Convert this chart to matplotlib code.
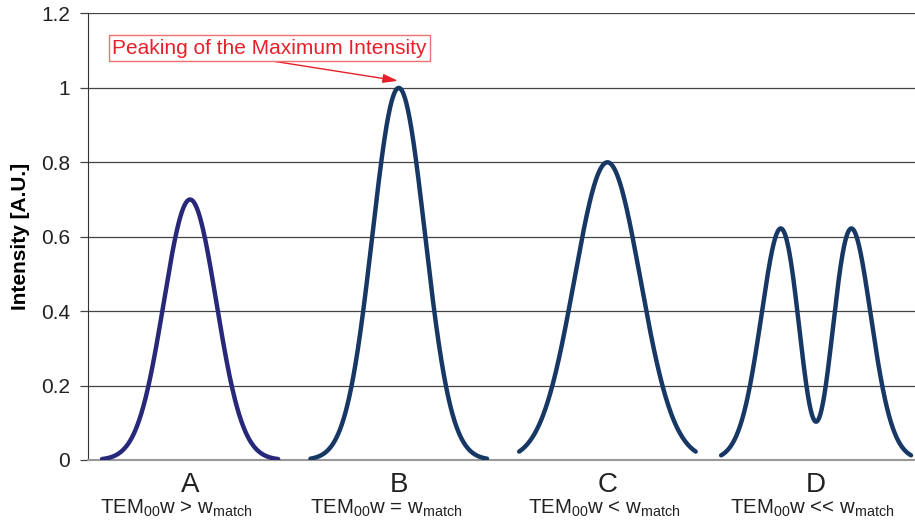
import numpy as np
import matplotlib
matplotlib.use("Agg")
import matplotlib.pyplot as plt
from matplotlib.ticker import FormatStrFormatter

plt.rcParams['font.family'] = ['Liberation Sans', 'DejaVu Sans']
plt.rcParams['mathtext.fontset'] = 'custom'
plt.rcParams['mathtext.rm'] = 'Liberation Sans'

# beam cases
letters = ['A', 'B', 'C', 'D']
captions = [r'TEM$_{\mathregular{00}}$w > w$_{\mathregular{match}}$',
            r'TEM$_{\mathregular{00}}$w = w$_{\mathregular{match}}$',
            r'TEM$_{\mathregular{00}}$w < w$_{\mathregular{match}}$',
            r'TEM$_{\mathregular{00}}$w << w$_{\mathregular{match}}$']
centers = [0, 1, 2, 3]                  # profile positions
tem00 = [0.70, 1.00, 0.80, 0.103]       # TEM00 part of the peak intensity
tem01 = [0.0, 0.0, 0.0, 1.585]          # TEM01 part (only case D)
beam_radius = [0.178, 0.178, 0.224, 0.175]
half_span = [0.422, 0.423, 0.423, 0.455]
line_colors = ['#27287a', '#173864', '#173864', '#173864']
caption_shift = [-0.067, -0.058, -0.013, -0.02]

fig = plt.figure(figsize=(9.15, 5.26), dpi=100)
ax = fig.add_axes([0.0962, 0.1255, 0.9038, 0.8489])

for i in range(4):
    x = np.linspace(-half_span[i], half_span[i], 400)
    r = (x / beam_radius[i]) ** 2
    y = (tem00[i] + tem01[i] * r) * np.exp(-r)
    ax.plot(x + centers[i], y, color=line_colors[i], lw=3.2, solid_capstyle='round', zorder=3)
    ax.text(centers[i], -0.071, letters[i], transform=ax.get_xaxis_transform(),
            ha='center', va='baseline', fontsize=20, color='#222222')
    ax.text(centers[i] + caption_shift[i], -0.1194, captions[i], transform=ax.get_xaxis_transform(),
            ha='center', va='baseline', fontsize=14.7, color='#222222')

ax.set_xlim(-0.489, 3.474)
ax.set_ylim(0, 1.2)
ax.set_yticks(np.arange(0, 1.21, 0.2))
ax.yaxis.set_major_formatter(FormatStrFormatter('%g'))
ax.set_xticks([])
ax.grid(axis='y', color='#444444', lw=0.9)
ax.tick_params(axis='y', direction='out', length=6, width=0.9, color='#444444',
               labelsize=15, pad=7, labelcolor='#222222')
for s in ['top', 'right']:
    ax.spines[s].set_visible(False)
ax.spines['left'].set_color('#333333')
ax.spines['bottom'].set_color('#999999')
ax.spines['bottom'].set_linewidth(1.5)
ax.set_ylabel('Intensity [A.U.]', fontsize=15, fontweight='bold', labelpad=8)

ax.annotate('Peaking of the Maximum Intensity', xy=(0.996, 1.019), xytext=(0.379, 1.107),
            fontsize=15, color='#e8202a', ha='center', va='center',
            bbox=dict(boxstyle='square,pad=0.15', fc='white', ec='#f07070', lw=1),
            arrowprops=dict(arrowstyle='-|>,head_length=0.6,head_width=0.18', color='#e8202a',
                            lw=1, relpos=(0.44, 0), shrinkA=0, shrinkB=0))

fig.savefig('out.png', dpi=100)
